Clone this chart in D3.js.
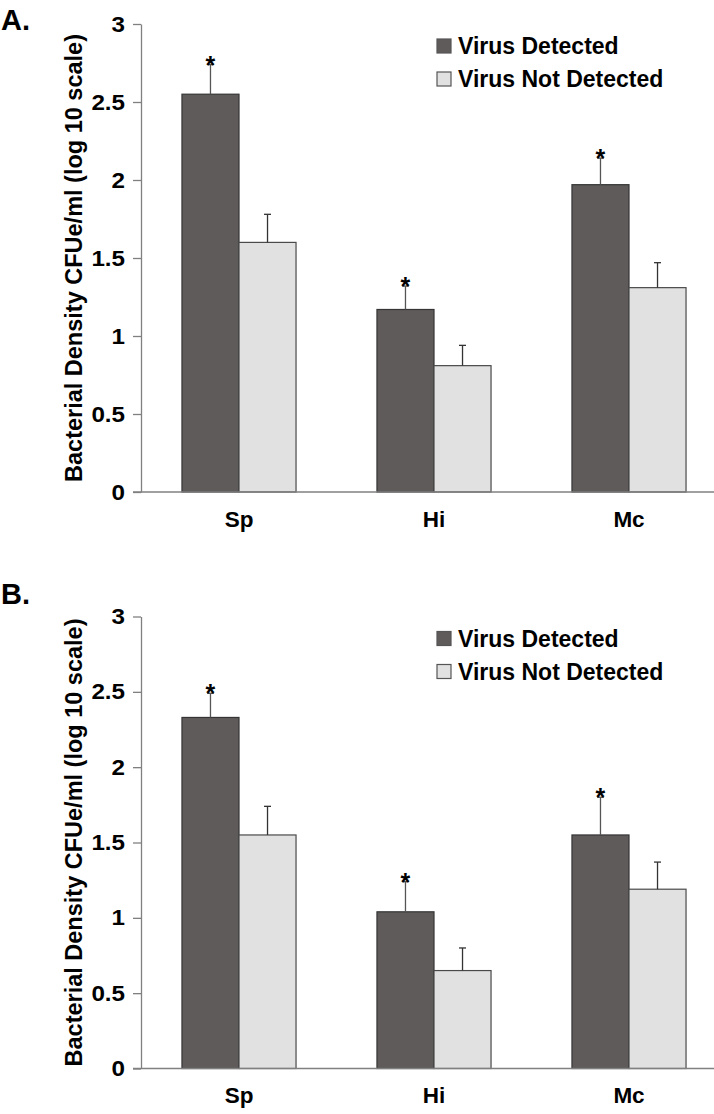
<!DOCTYPE html>
<html>
<head>
<meta charset="utf-8">
<script src="https://cdn.jsdelivr.net/npm/d3@7"></script>
<style>
  body { margin: 0; background: #fff; }
  text { font-family: "Liberation Sans", Arial, Helvetica, sans-serif; font-weight: bold; fill: #000; }
</style>
</head>
<body>
<svg id="svg"></svg>
<script>
// data
const categories = ["Sp", "Hi", "Mc"];
const seriesNames = ["Virus Detected", "Virus Not Detected"];
const yTicks = [0, 0.5, 1, 1.5, 2, 2.5, 3];

// panel A
const detectedA = [2.55, 1.17, 1.97];
const detectedErrA = [0.19, 0.15, 0.17];
const notDetectedA = [1.60, 0.81, 1.31];
const notDetectedErrA = [0.18, 0.13, 0.16];

// panel B
const detectedB = [2.33, 1.04, 1.55];
const detectedErrB = [0.16, 0.20, 0.25];
const notDetectedB = [1.55, 0.65, 1.19];
const notDetectedErrB = [0.19, 0.15, 0.18];

// star only on the virus detected bars
const significant = [true, true, true];

const svgWidth = 714;
const svgHeight = 1114;
const colors = ["#5f5b5a", "#e1e1e1"];
const strokes = ["#353535", "#4a4a4a"];
const axisColor = "#808080";

const svg = d3.select("svg")
    .attr("width", svgWidth)
    .attr("height", svgHeight);

const panels = [
    { label: "A.", labelY: 30, top: 24, bottom: 492, means: [detectedA, notDetectedA], errs: [detectedErrA, notDetectedErrA] },
    { label: "B.", labelY: 604, top: 616.5, bottom: 1068.5, means: [detectedB, notDetectedB], errs: [detectedErrB, notDetectedErrB] }
];

// shared x scales
const x0 = d3.scaleBand()
    .domain(categories)
    .range([141.5, 726.5])
    .paddingInner(0.415)
    .paddingOuter(0.2075);

const x1 = d3.scaleBand()
    .domain(seriesNames)
    .range([0, x0.bandwidth()]);

const tickScale = 1.1;

panels.forEach(p => {
    const g = svg.append("g");

    const y = d3.scaleLinear()
        .domain([0, 3])
        .range([p.bottom, p.top]);

    // panel letter
    g.append("text")
        .attr("x", 1)
        .attr("y", p.labelY)
        .style("font-size", "29px")
        .text(p.label);

    // y axis
    const yAxis = g.append("g")
        .attr("transform", "translate(141,0)")
        .call(d3.axisLeft(y)
            .tickValues(yTicks)
            .tickFormat(d3.format("~g"))
            .tickSize(8)
            .tickSizeOuter(0)
            .tickPadding(8));
    yAxis.selectAll("path, line").attr("stroke", axisColor).attr("stroke-width", 1.3);
    yAxis.selectAll("text")
        .style("font-size", "22px")
        .style("font-family", "'Liberation Sans', Arial, sans-serif")
        .style("font-weight", "bold")
        .attr("fill", "#000")
        .attr("x", -16 / tickScale)
        .attr("transform", "scale(" + tickScale + ",1)");

    // y title
    g.append("text")
        .attr("transform", "translate(82," + ((p.top + p.bottom) / 2) + ") rotate(-90)")
        .attr("text-anchor", "middle")
        .style("font-size", "23.5px")
        .text("Bacterial Density CFUe/ml (log 10 scale)");

    // bars
    const groups = g.selectAll(".cat")
        .data(categories)
        .enter()
        .append("g")
        .attr("transform", d => "translate(" + x0(d) + ",0)");

    groups.each(function(cat, ci) {
        const cg = d3.select(this);
        seriesNames.forEach((s, si) => {
            const v = p.means[si][ci];
            const e = p.errs[si][ci];
            const cx = x1(s) + x1.bandwidth() / 2;
            cg.append("rect")
                .attr("x", x1(s))
                .attr("y", y(v))
                .attr("width", x1.bandwidth())
                .attr("height", y(0) - y(v))
                .attr("fill", colors[si])
                .attr("stroke", strokes[si])
                .attr("stroke-width", 1.2);
            // error bar (upper only)
            cg.append("line")
                .attr("x1", cx).attr("x2", cx)
                .attr("y1", y(v)).attr("y2", y(v + e))
                .attr("stroke", si === 0 ? "#555" : "#333")
                .attr("stroke-width", 1.3);
            cg.append("line")
                .attr("x1", cx - 3.5).attr("x2", cx + 3.5)
                .attr("y1", y(v + e)).attr("y2", y(v + e))
                .attr("stroke", si === 0 ? "#555" : "#333")
                .attr("stroke-width", 1.3);
            if (si === 0 && significant[ci]) {
                cg.append("text")
                    .attr("x", cx)
                    .attr("y", y(v + e) + 9)
                    .attr("text-anchor", "middle")
                    .style("font-size", "25px")
                    .text("*");
            }
        });
    });

    // x axis
    const xAxis = g.append("g")
        .attr("transform", "translate(0," + p.bottom + ")")
        .call(d3.axisBottom(x0).tickSize(0).tickPadding(19));
    xAxis.select(".domain").remove();
    xAxis.selectAll("text")
        .style("font-size", "22.5px")
        .style("font-family", "'Liberation Sans', Arial, sans-serif")
        .style("font-weight", "bold")
        .attr("fill", "#000");
    g.append("line")
        .attr("x1", 133).attr("x2", svgWidth)
        .attr("y1", p.bottom).attr("y2", p.bottom)
        .attr("stroke", axisColor)
        .attr("stroke-width", 1.5);

    // legend
    const legend = g.selectAll(".legend")
        .data(seriesNames)
        .enter()
        .append("g")
        .attr("transform", (d, i) => "translate(437," + (p.top + 30 + i * 33) + ")");
    legend.append("rect")
        .attr("x", 0)
        .attr("y", -15)
        .attr("width", 14)
        .attr("height", 14)
        .attr("fill", (d, i) => colors[i])
        .attr("stroke", "#555")
        .attr("stroke-width", 1.2);
    legend.append("text")
        .attr("x", 21)
        .attr("y", 0)
        .style("font-size", "23px")
        .text(d => d);
});
</script>
</body>
</html>
